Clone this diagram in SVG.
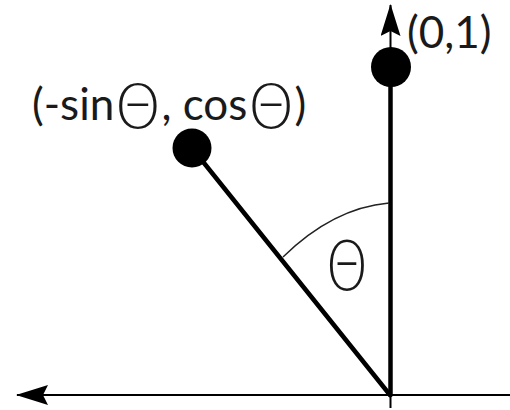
<svg xmlns="http://www.w3.org/2000/svg" width="510" height="410" viewBox="0 0 510 410">
<style>
.lbl{font-family:Lato,"Open Sans","Liberation Sans",sans-serif;font-size:44px;fill:#1a1a1a}
.th{font-family:"DejaVu Sans",sans-serif;font-weight:200;font-size:60px}
.thick{stroke:#000;stroke-width:4.5;fill:none;stroke-linecap:round}
.thin{stroke:#000;stroke-width:2;fill:none}
.dot{fill:#000}
</style>
<defs>
<marker id="ah" viewBox="0 0 32 20" refX="31" refY="10" markerWidth="32" markerHeight="20" markerUnits="userSpaceOnUse" orient="auto">
<path d="M0,0 L32,10 L0,20 L5,10 Z" fill="#000"/>
</marker>
</defs>
<rect width="510" height="410" fill="#fff"/>
<g id="connectors">
<line class="thin" x1="510" y1="395" x2="17" y2="395" marker-end="url(#ah)"/>
<line class="thin" x1="390.5" y1="395" x2="390.5" y2="408"/>
<line class="thin" x1="390.5" y1="67" x2="390.5" y2="5" marker-end="url(#ah)"/>
<line class="thick" x1="390.5" y1="395" x2="390.5" y2="67"/>
<line class="thick" x1="390" y1="395" x2="192" y2="148"/>
</g>
<g id="angle">
<path d="M389,203 Q333,208 283,257" stroke="#222" stroke-width="1.5" fill="none"/>
<text class="lbl th" transform="translate(347,265) scale(0.8,1)" x="0" y="25" text-anchor="middle" style="font-size:68px">Θ</text>
</g>
<g id="point-unit">
<circle class="dot" cx="391" cy="67" r="20"/>
<text class="lbl" x="407" y="48">(0,1)</text>
</g>
<g id="point-rotated">
<circle class="dot" cx="192" cy="148" r="19.5"/>
<text class="lbl" x="32" y="120">(-sin<tspan class="th" dy="8">Θ</tspan><tspan dy="-8">, cos</tspan><tspan class="th" dy="8">Θ</tspan><tspan dy="-8">)</tspan></text>
</g>
</svg>
